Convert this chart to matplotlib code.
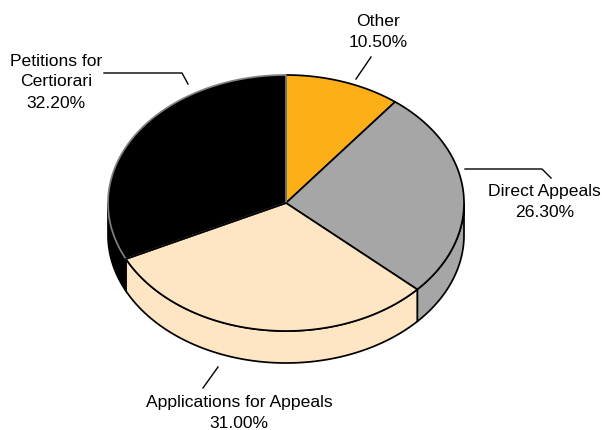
import numpy as np
import matplotlib
matplotlib.use("Agg")
import matplotlib.pyplot as plt
from matplotlib.patches import Polygon

plt.rcParams['font.family'] = ['Liberation Sans', 'DejaVu Sans']

categories = ["Other", "Direct Appeals", "Applications for Appeals", "Petitions for Certiorari"]
shares = [10.5, 26.3, 31.0, 32.2]
value_labels = ["10.50%", "26.30%", "31.00%", "32.20%"]
display_names = ["Other", "Direct Appeals", "Applications for Appeals", "Petitions for\nCertiorari"]
colors = ["#FCAF17", "#A6A6A6", "#FEE6C5", "#000000"]
edge_colors = ["#000000", "#000000", "#000000", "#808080"]
side_edges = ["#000000", "#000000", "#000000", "#000000"]

CX, CY, RX, RY, DEPTH = 286.0, 203.0, 178.0, 128.0, 32.0
label_pos = [(378, 32), (544.5, 202), (239, 412.5), (56, 82)]
leaders = [
    [(356, 79), (371, 57)],
    [(465, 169), (542, 169), (551, 178)],
    [(203, 388), (218, 367)],
    [(104, 73), (182, 73), (188, 84)],
]

fig = plt.figure(figsize=(6.02, 4.30), dpi=100)
ax = fig.add_axes([0, 0, 1, 1])
ax.set_xlim(0, 602)
ax.set_ylim(430, 0)
ax.axis("off")


def rim(a0, a1, dy=0.0):
    t = np.radians(np.linspace(a0, a1, 200))
    return np.column_stack([CX + RX * np.sin(t), CY + dy - RY * np.cos(t)])


bounds = np.concatenate([[0], np.cumsum(shares)]) / sum(shares) * 360.0

# side walls first (only the front half of the rim is visible)
for i in range(len(shares)):
    a0, a1 = max(bounds[i], 90), min(bounds[i + 1], 270)
    if a1 <= a0:
        continue
    top = rim(a0, a1)
    bottom = rim(a0, a1, DEPTH)[::-1]
    ax.add_patch(Polygon(np.vstack([top, bottom]), closed=True, fc=colors[i],
                         ec=side_edges[i], lw=1.25, joinstyle="round", zorder=2))

# top faces: the black slice goes last so its grey outline stays visible
order = [0, 1, 2, 3]
for i in order:
    arc = rim(bounds[i], bounds[i + 1])
    pts = np.vstack([[CX, CY], arc])
    ax.add_patch(Polygon(pts, closed=True, fc=colors[i], ec=edge_colors[i],
                         lw=1.25, joinstyle="round", zorder=3 + order.index(i)))

# re-stroke the boundary that adjoins the lighter slice in black
a = bounds[3]
p = rim(a, a + 0.01)[0]
ax.plot([CX, p[0]], [CY, p[1]], color="black", lw=1.25, zorder=8)

for (x, y), name, val in zip(label_pos, display_names, value_labels):
    ax.text(x, y, f"{name}\n{val}", ha="center", va="center", fontsize=12.6,
            color="black", linespacing=1.5, zorder=10)

for line in leaders:
    xs, ys = zip(*line)
    ax.plot(xs, ys, color="black", lw=1.0, zorder=9)

fig.savefig("out.png", dpi=100)
